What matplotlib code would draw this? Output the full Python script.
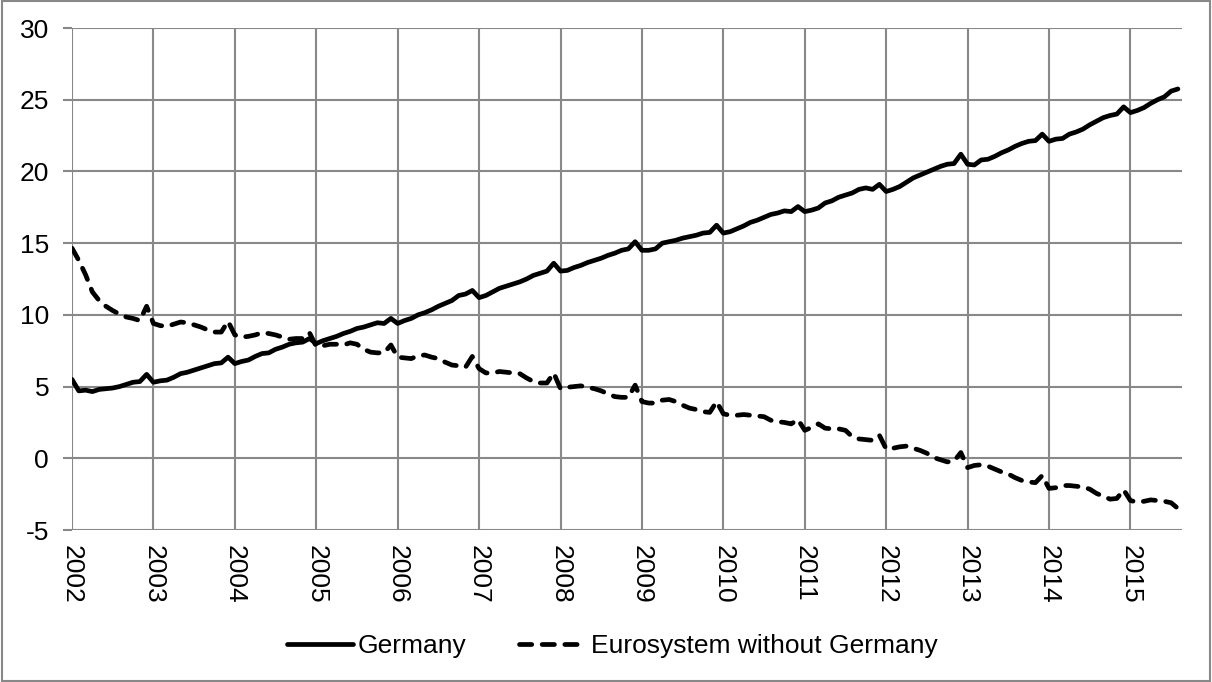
import matplotlib
matplotlib.use("Agg")
import matplotlib.pyplot as plt
from matplotlib.patches import Rectangle

plt.rcParams['font.family'] = ['Liberation Sans', 'DejaVu Sans']

years = [str(y) for y in range(2002, 2016)]

germany = [
    5.5, 4.7, 4.75, 4.65, 4.8, 4.85, 4.9, 5.0, 5.15, 5.3, 5.35, 5.85,      # 2002
    5.3, 5.4, 5.45, 5.65, 5.9, 6.0, 6.15, 6.3, 6.45, 6.6, 6.65, 7.05,      # 2003
    6.6, 6.75, 6.85, 7.1, 7.3, 7.35, 7.6, 7.75, 7.95, 8.05, 8.1, 8.35,     # 2004
    8.0, 8.2, 8.35, 8.5, 8.7, 8.85, 9.05, 9.15, 9.3, 9.45, 9.4, 9.75,      # 2005
    9.4, 9.6, 9.75, 10.0, 10.15, 10.35, 10.6, 10.8, 11.0, 11.35, 11.45, 11.7,  # 2006
    11.2, 11.35, 11.6, 11.85, 12.0, 12.15, 12.3, 12.5, 12.75, 12.9, 13.05, 13.6,  # 2007
    13.05, 13.1, 13.3, 13.45, 13.65, 13.8, 13.95, 14.15, 14.3, 14.5, 14.6, 15.1,  # 2008
    14.5, 14.5, 14.6, 15.0, 15.1, 15.2, 15.35, 15.45, 15.55, 15.7, 15.75, 16.25,  # 2009
    15.7, 15.8, 16.0, 16.2, 16.45, 16.6, 16.8, 17.0, 17.1, 17.25, 17.2, 17.55,   # 2010
    17.2, 17.3, 17.45, 17.8, 17.95, 18.2, 18.35, 18.5, 18.75, 18.85, 18.75, 19.1,  # 2011
    18.6, 18.75, 18.95, 19.25, 19.55, 19.75, 19.95, 20.15, 20.35, 20.5, 20.55, 21.2,  # 2012
    20.5, 20.45, 20.8, 20.85, 21.05, 21.3, 21.5, 21.75, 21.95, 22.1, 22.15, 22.6,  # 2013
    22.1, 22.25, 22.3, 22.6, 22.75, 22.95, 23.25, 23.5, 23.75, 23.9, 24.0, 24.5,   # 2014
    24.1, 24.25, 24.45, 24.75, 25.0, 25.2, 25.6, 25.75,                           # 2015
]

euro_ex_de = [
    14.65, 13.8, 12.8, 11.6, 11.0, 10.6, 10.3, 10.05, 9.85, 9.75, 9.6, 10.6,   # 2002
    9.4, 9.25, 9.2, 9.35, 9.5, 9.45, 9.3, 9.15, 8.95, 8.8, 8.8, 9.55,         # 2003
    8.6, 8.45, 8.5, 8.6, 8.75, 8.7, 8.6, 8.45, 8.3, 8.35, 8.35, 8.75,         # 2004
    7.8, 7.85, 7.95, 7.95, 7.9, 8.05, 7.95, 7.6, 7.4, 7.35, 7.35, 7.9,        # 2005
    7.05, 7.0, 6.95, 7.15, 7.2, 7.05, 6.95, 6.7, 6.5, 6.45, 6.35, 7.1,        # 2006
    6.25, 5.95, 5.95, 6.05, 6.0, 5.95, 5.9, 5.6, 5.35, 5.25, 5.25, 5.95,      # 2007
    4.85, 4.95, 5.0, 5.05, 4.95, 4.85, 4.7, 4.5, 4.3, 4.25, 4.25, 5.1,        # 2008
    3.95, 3.85, 3.85, 4.05, 4.1, 3.95, 3.7, 3.5, 3.4, 3.25, 3.2, 3.95,        # 2009
    3.1, 3.0, 3.0, 3.05, 3.0, 2.95, 2.9, 2.65, 2.55, 2.5, 2.4, 2.7,           # 2010
    1.95, 2.15, 2.4, 2.1, 2.05, 2.05, 1.95, 1.5, 1.35, 1.3, 1.25, 1.6,        # 2011
    0.65, 0.7, 0.8, 0.85, 0.7, 0.55, 0.35, 0.05, -0.1, -0.25, -0.2, 0.4,      # 2012
    -0.65, -0.5, -0.45, -0.55, -0.75, -0.95, -1.1, -1.35, -1.55, -1.65, -1.7, -1.2,  # 2013
    -2.1, -2.05, -1.9, -1.9, -1.95, -2.0, -2.15, -2.45, -2.65, -2.85, -2.8, -2.2,   # 2014
    -2.95, -3.05, -3.0, -2.9, -2.95, -3.0, -3.1, -3.5,                              # 2015
]

yticks = [-5, 0, 5, 10, 15, 20, 25, 30]

fig = plt.figure(figsize=(12.12, 6.82), dpi=100)
ax = fig.add_axes([72 / 1212, 1 - 530 / 682, (1182 - 72) / 1212, (530 - 28) / 682])

x = list(range(len(germany)))
grid_c = '#888888'
ax.plot(x, germany, color='black', lw=3.4, solid_capstyle='round',
        solid_joinstyle='round', label='Germany', zorder=3)
ax.plot(x, euro_ex_de, color='black', lw=3.4, dashes=(2.6, 2.2),
        dash_capstyle='round', dash_joinstyle='round',
        label='Eurosystem without Germany', zorder=3)

ax.set_xlim(0, len(germany) - 1 + 0.6)
ax.set_ylim(-5, 30)
ax.set_yticks(yticks)
ax.set_yticklabels([str(v) for v in yticks])
ax.set_xticks([12 * i for i in range(len(years))])
ax.set_xticklabels(years, rotation=270, va='top', ha='center')

for s in ax.spines.values():
    s.set_visible(False)
ax.grid(True, color=grid_c, lw=1.5)
ax.set_axisbelow(True)
ax.tick_params(axis='y', length=6.5, width=1.5, color=grid_c, pad=10,
               labelsize=19, labelcolor='black')
ax.tick_params(axis='x', length=0, pad=11, labelsize=19, labelcolor='black')

leg = fig.legend(loc='lower center', bbox_to_anchor=(0.505, 0.0), ncol=2,
                 frameon=False, fontsize=19, handlelength=2.5,
                 handletextpad=0.2, columnspacing=2.0)

fig.patches.append(Rectangle((0.002, 0.002), 0.996, 0.996, transform=fig.transFigure,
                             fill=False, edgecolor=grid_c, lw=1.5))

fig.savefig('out.png', dpi=100)
